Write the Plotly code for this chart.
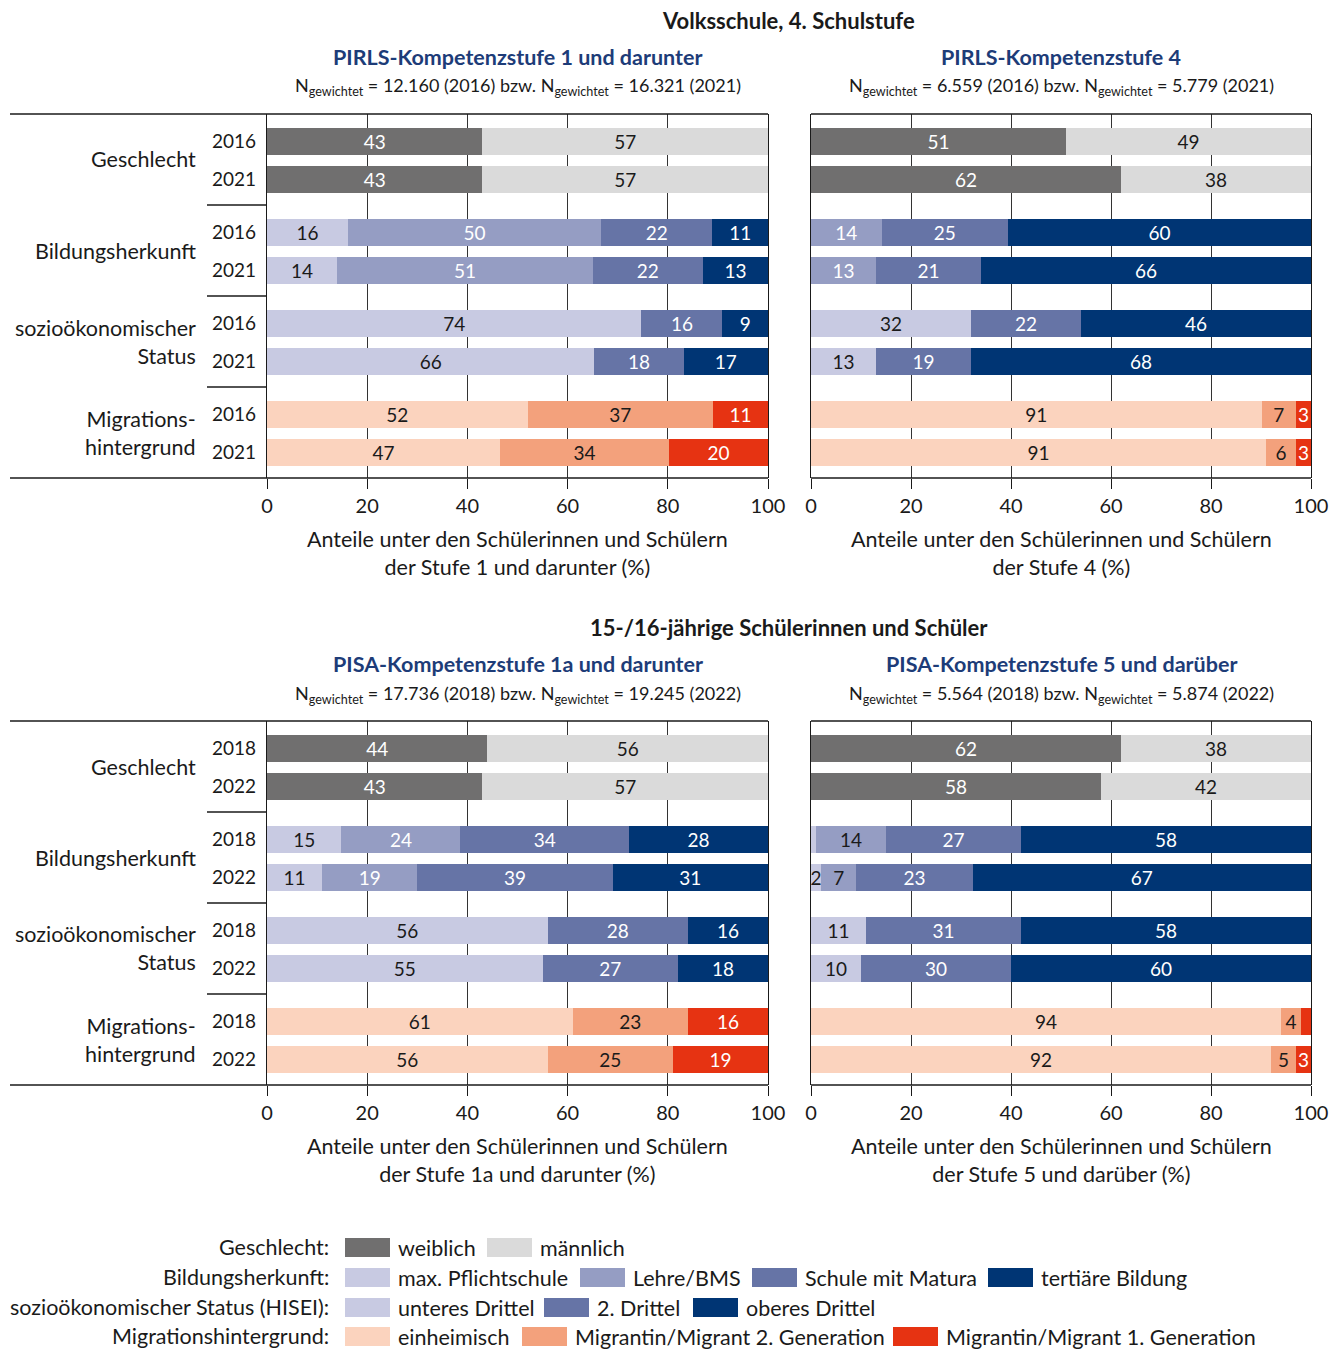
import plotly.graph_objects as go

W, H = 1332, 1350
FONT = "Lato"
INK = "#1a1a1a"
TITLE_BLUE = "#1d3c78"

# ---------------- data ----------------
pirls_years = ["2016", "2021"]
pisa_years = ["2018", "2022"]
group_labels = ["Geschlecht", "Bildungsherkunft", "sozioökonomischer<br>Status", "Migrations-<br>hintergrund"]

geschlecht_cats = ["weiblich", "männlich"]
bildung_cats = ["max. Pflichtschule", "Lehre/BMS", "Schule mit Matura", "tertiäre Bildung"]
hisei_cats = ["unteres Drittel", "2. Drittel", "oberes Drittel"]
migration_cats = ["einheimisch", "Migrantin/Migrant 2. Generation", "Migrantin/Migrant 1. Generation"]

# PIRLS-Kompetenzstufe 1 und darunter (per year: segment values)
pirls_low_geschlecht = [[43, 57], [43, 57]]
pirls_low_bildung = [[16, 50, 22, 11], [14, 51, 22, 13]]
pirls_low_hisei = [[74, 16, 9], [66, 18, 17]]
pirls_low_migration = [[52, 37, 11], [47, 34, 20]]

# PIRLS-Kompetenzstufe 4
pirls_high_geschlecht = [[51, 49], [62, 38]]
pirls_high_bildung = [[0, 14, 25, 60], [0, 13, 21, 66]]
pirls_high_hisei = [[32, 22, 46], [13, 19, 68]]
pirls_high_migration = [[91, 7, 3], [91, 6, 3]]

# PISA-Kompetenzstufe 1a und darunter
pisa_low_geschlecht = [[44, 56], [43, 57]]
pisa_low_bildung = [[15, 24, 34, 28], [11, 19, 39, 31]]
pisa_low_hisei = [[56, 28, 16], [55, 27, 18]]
pisa_low_migration = [[61, 23, 16], [56, 25, 19]]

# PISA-Kompetenzstufe 5 und darüber
pisa_high_geschlecht = [[62, 38], [58, 42]]
pisa_high_bildung = [[1, 14, 27, 58], [2, 7, 23, 67]]
pisa_high_hisei = [[11, 31, 58], [10, 30, 60]]
pisa_high_migration = [[94, 4, 2], [92, 5, 3]]

# segments drawn without a printed value: (group, year, segment)
pisa_high_unlabeled = [(1, 0, 0), (3, 0, 2)]

# ---------------- styles ----------------
C_GESCHLECHT = ["#706f6f", "#dadada"]
C_BILDUNG = ["#c8cae2", "#959dc3", "#6674a6", "#003574"]
C_HISEI = ["#c8cae2", "#6674a6", "#003574"]
C_MIGRATION = ["#fbd3be", "#f3a17c", "#e63312"]
group_colors = [C_GESCHLECHT, C_BILDUNG, C_HISEI, C_MIGRATION]

T_GESCHLECHT = ["white", INK]
T_BILDUNG = [INK, "white", "white", "white"]
T_BILDUNG_DARK = [INK, INK, "white", "white"]
T_HISEI = [INK, "white", "white"]
T_MIGRATION = [INK, INK, "white"]

WORD = 21.5   # font size for words
NUM = 19      # font size for in-bar values / years

panels = [
    dict(data=[pirls_low_geschlecht, pirls_low_bildung, pirls_low_hisei, pirls_low_migration],
         years=pirls_years, unlabeled=[], tcols=[T_GESCHLECHT, T_BILDUNG, T_HISEI, T_MIGRATION],
         col=0, row=0, title="PIRLS-Kompetenzstufe 1 und darunter",
         n="N<sub>gewichtet</sub> = 12.160 (2016) bzw. N<sub>gewichtet</sub> = 16.321 (2021)",
         axtitle="Anteile unter den Schülerinnen und Schülern<br>der Stufe 1 und darunter (%)"),
    dict(data=[pirls_high_geschlecht, pirls_high_bildung, pirls_high_hisei, pirls_high_migration],
         years=pirls_years, unlabeled=[], tcols=[T_GESCHLECHT, T_BILDUNG, T_HISEI, T_MIGRATION],
         col=1, row=0, title="PIRLS-Kompetenzstufe 4",
         n="N<sub>gewichtet</sub> = 6.559 (2016) bzw. N<sub>gewichtet</sub> = 5.779 (2021)",
         axtitle="Anteile unter den Schülerinnen und Schülern<br>der Stufe 4 (%)"),
    dict(data=[pisa_low_geschlecht, pisa_low_bildung, pisa_low_hisei, pisa_low_migration],
         years=pisa_years, unlabeled=[], tcols=[T_GESCHLECHT, T_BILDUNG, T_HISEI, T_MIGRATION],
         col=0, row=1, title="PISA-Kompetenzstufe 1a und darunter",
         n="N<sub>gewichtet</sub> = 17.736 (2018) bzw. N<sub>gewichtet</sub> = 19.245 (2022)",
         axtitle="Anteile unter den Schülerinnen und Schülern<br>der Stufe 1a und darunter (%)"),
    dict(data=[pisa_high_geschlecht, pisa_high_bildung, pisa_high_hisei, pisa_high_migration],
         years=pisa_years, unlabeled=pisa_high_unlabeled, tcols=[T_GESCHLECHT, T_BILDUNG_DARK, T_HISEI, T_MIGRATION],
         col=1, row=1, title="PISA-Kompetenzstufe 5 und darüber",
         n="N<sub>gewichtet</sub> = 5.564 (2018) bzw. N<sub>gewichtet</sub> = 5.874 (2022)",
         axtitle="Anteile unter den Schülerinnen und Schülern<br>der Stufe 5 und darüber (%)"),
]
section_titles = ["Volksschule, 4. Schulstufe", "15-/16-jährige Schülerinnen und Schüler"]

# ---------------- layout geometry (pixels) ----------------
col_x = [(267, 768), (811, 1311)]
frame_left = [10, 811]
row_top = [114, 721]
PANEL_H = 364
GROUP_H = 91
BAR_OFF = [27, 65]
BAR_W = 27


def pxx(x):
    return x / W


def pxy(y):
    return 1 - y / H


def row_pos(g, i):
    return g * GROUP_H + BAR_OFF[i]


fig = go.Figure()
shapes = []
annotations = []

for pi, p in enumerate(panels):
    ax = "" if pi == 0 else str(pi + 1)
    xa, ya = "x" + ax, "y" + ax
    x0, x1 = col_x[p["col"]]
    top = row_top[p["row"]]
    bottom = top + PANEL_H

    for g, gdata in enumerate(p["data"]):
        nseg = len(gdata[0])
        for k in range(nseg):
            vals = [gdata[i][k] for i in range(2)]
            texts, tpos = [], []
            for i in range(2):
                v = gdata[i][k]
                hidden = v == 0 or (g, i, k) in p["unlabeled"]
                texts.append("" if hidden else str(v))
                tpos.append("none" if hidden else "inside")
            fig.add_trace(go.Bar(
                orientation="h",
                x=vals,
                y=[row_pos(g, i) for i in range(2)],
                width=BAR_W,
                marker=dict(color=group_colors[g][k], line=dict(width=0)),
                text=texts,
                texttemplate="%{text}",
                textposition=tpos,
                insidetextanchor="middle",
                textangle=0,
                textfont=dict(family=FONT, size=NUM, color=p["tcols"][g][k]),
                hoverinfo="skip",
                showlegend=False,
                xaxis=xa, yaxis=ya,
            ))

    xkey = "xaxis" + ax
    ykey = "yaxis" + ax
    fig.layout[xkey] = dict(
        domain=[pxx(x0), pxx(x1)], range=[0, 100], anchor=ya,
        tickvals=[0, 20, 40, 60, 80, 100], ticks="outside", ticklen=10, tickwidth=1.2, tickcolor=INK,
        showgrid=True, gridcolor="#333333", gridwidth=1.2, zeroline=False, showline=False,
        tickfont=dict(family=FONT, size=20, color=INK), fixedrange=True, automargin=False,
    )
    left = p["col"] == 0
    ydict = dict(
        domain=[pxy(bottom), pxy(top)], range=[PANEL_H, 0], anchor=xa,
        ticks="", showgrid=False, zeroline=False,
        showline=True, mirror=True, linecolor=INK, linewidth=1.2,
        fixedrange=True, automargin=False,
    )
    if left:
        ydict.update(
            tickvals=[row_pos(g, i) for g in range(4) for i in range(2)],
            ticktext=[p["years"][i] for g in range(4) for i in range(2)],
            showticklabels=True,
            tickfont=dict(family=FONT, size=NUM, color=INK), ticklabelstandoff=6,
        )
    else:
        ydict.update(showticklabels=False, tickvals=[])
    fig.layout[ykey] = ydict

    # frame lines
    fl = frame_left[p["col"]]
    for yy in (top, bottom):
        shapes.append(dict(type="line", xref="paper", yref="paper",
                           x0=pxx(fl), x1=pxx(x1), y0=pxy(yy), y1=pxy(yy),
                           line=dict(color=INK, width=1.3)))
    if left:
        for g in range(1, 4):
            yy = top + g * GROUP_H
            shapes.append(dict(type="line", xref="paper", yref="paper",
                               x0=pxx(207), x1=pxx(x0), y0=pxy(yy), y1=pxy(yy),
                               line=dict(color=INK, width=1.3)))
        for g, lab in enumerate(group_labels):
            annotations.append(dict(xref="paper", yref="paper", x=pxx(198), y=pxy(top + g * GROUP_H + GROUP_H / 2),
                                    xanchor="right", yanchor="middle", align="right", showarrow=False,
                                    text=lab, font=dict(family=FONT, size=WORD, color=INK)))

    cx = (x0 + x1) / 2
    annotations.append(dict(xref="paper", yref="paper", x=pxx(cx), y=pxy(top - 57), xanchor="center", yanchor="middle",
                            showarrow=False, text="<b>" + p["title"] + "</b>",
                            font=dict(family=FONT, size=21.5, color=TITLE_BLUE)))
    annotations.append(dict(xref="paper", yref="paper", x=pxx(cx), y=pxy(top - 27), xanchor="center", yanchor="middle",
                            showarrow=False, text=p["n"], font=dict(family=FONT, size=18, color=INK)))
    annotations.append(dict(xref="paper", yref="paper", x=pxx(cx), y=pxy(bottom + 75), xanchor="center", yanchor="middle",
                            showarrow=False, text=p["axtitle"], font=dict(family=FONT, size=WORD, color=INK)))

for r, t in enumerate(section_titles):
    annotations.append(dict(xref="paper", yref="paper", x=pxx(789), y=pxy(row_top[r] - 94), xanchor="center",
                            yanchor="middle", showarrow=False, text="<b>" + t + "</b>",
                            font=dict(family=FONT, size=22, color=INK)))

# ---------------- custom legend ----------------
legend_titles = ["Geschlecht:", "Bildungsherkunft:", "sozioökonomischer Status (HISEI):", "Migrationshintergrund:"]
legend_items = [geschlecht_cats, bildung_cats, hisei_cats, migration_cats]
legend_swatch_x = [[345, 487], [345, 580, 752, 988], [345, 544, 693], [345, 522, 893]]
legend_row_y = [1247, 1277, 1307, 1336]
for r in range(4):
    yc = legend_row_y[r]
    annotations.append(dict(xref="paper", yref="paper", x=pxx(331), y=pxy(yc), xanchor="right", yanchor="middle",
                            showarrow=False, text=legend_titles[r], font=dict(family=FONT, size=WORD, color=INK)))
    for k, lab in enumerate(legend_items[r]):
        sx = legend_swatch_x[r][k]
        shapes.append(dict(type="rect", xref="paper", yref="paper", x0=pxx(sx), x1=pxx(sx + 45),
                           y0=pxy(yc - 9), y1=pxy(yc + 10), fillcolor=group_colors[r][k], line=dict(width=0)))
        annotations.append(dict(xref="paper", yref="paper", x=pxx(sx + 51), y=pxy(yc + 1), xanchor="left",
                                yanchor="middle", showarrow=False, text=lab,
                                font=dict(family=FONT, size=WORD, color=INK)))

fig.update_layout(
    width=W, height=H, autosize=False,
    margin=dict(l=0, r=0, t=0, b=0, pad=0, autoexpand=False),
    paper_bgcolor="white", plot_bgcolor="white",
    barmode="stack", barnorm="percent",
    uniformtext=dict(minsize=NUM, mode="show"),
    shapes=shapes, annotations=annotations,
    font=dict(family=FONT, color=INK),
    showlegend=False,
)

post = (
    "document.documentElement.style.margin='0';document.documentElement.style.padding='0';"
    "document.documentElement.style.overflow='hidden';"
    "document.body.style.margin='0';document.body.style.padding='0';document.body.style.overflow='hidden';"
    "Plotly.relayout('{plot_id}', {width: 1332, height: 1350});"
)
fig.write_html("out.html", post_script=post, config={"responsive": False, "displayModeBar": False})
